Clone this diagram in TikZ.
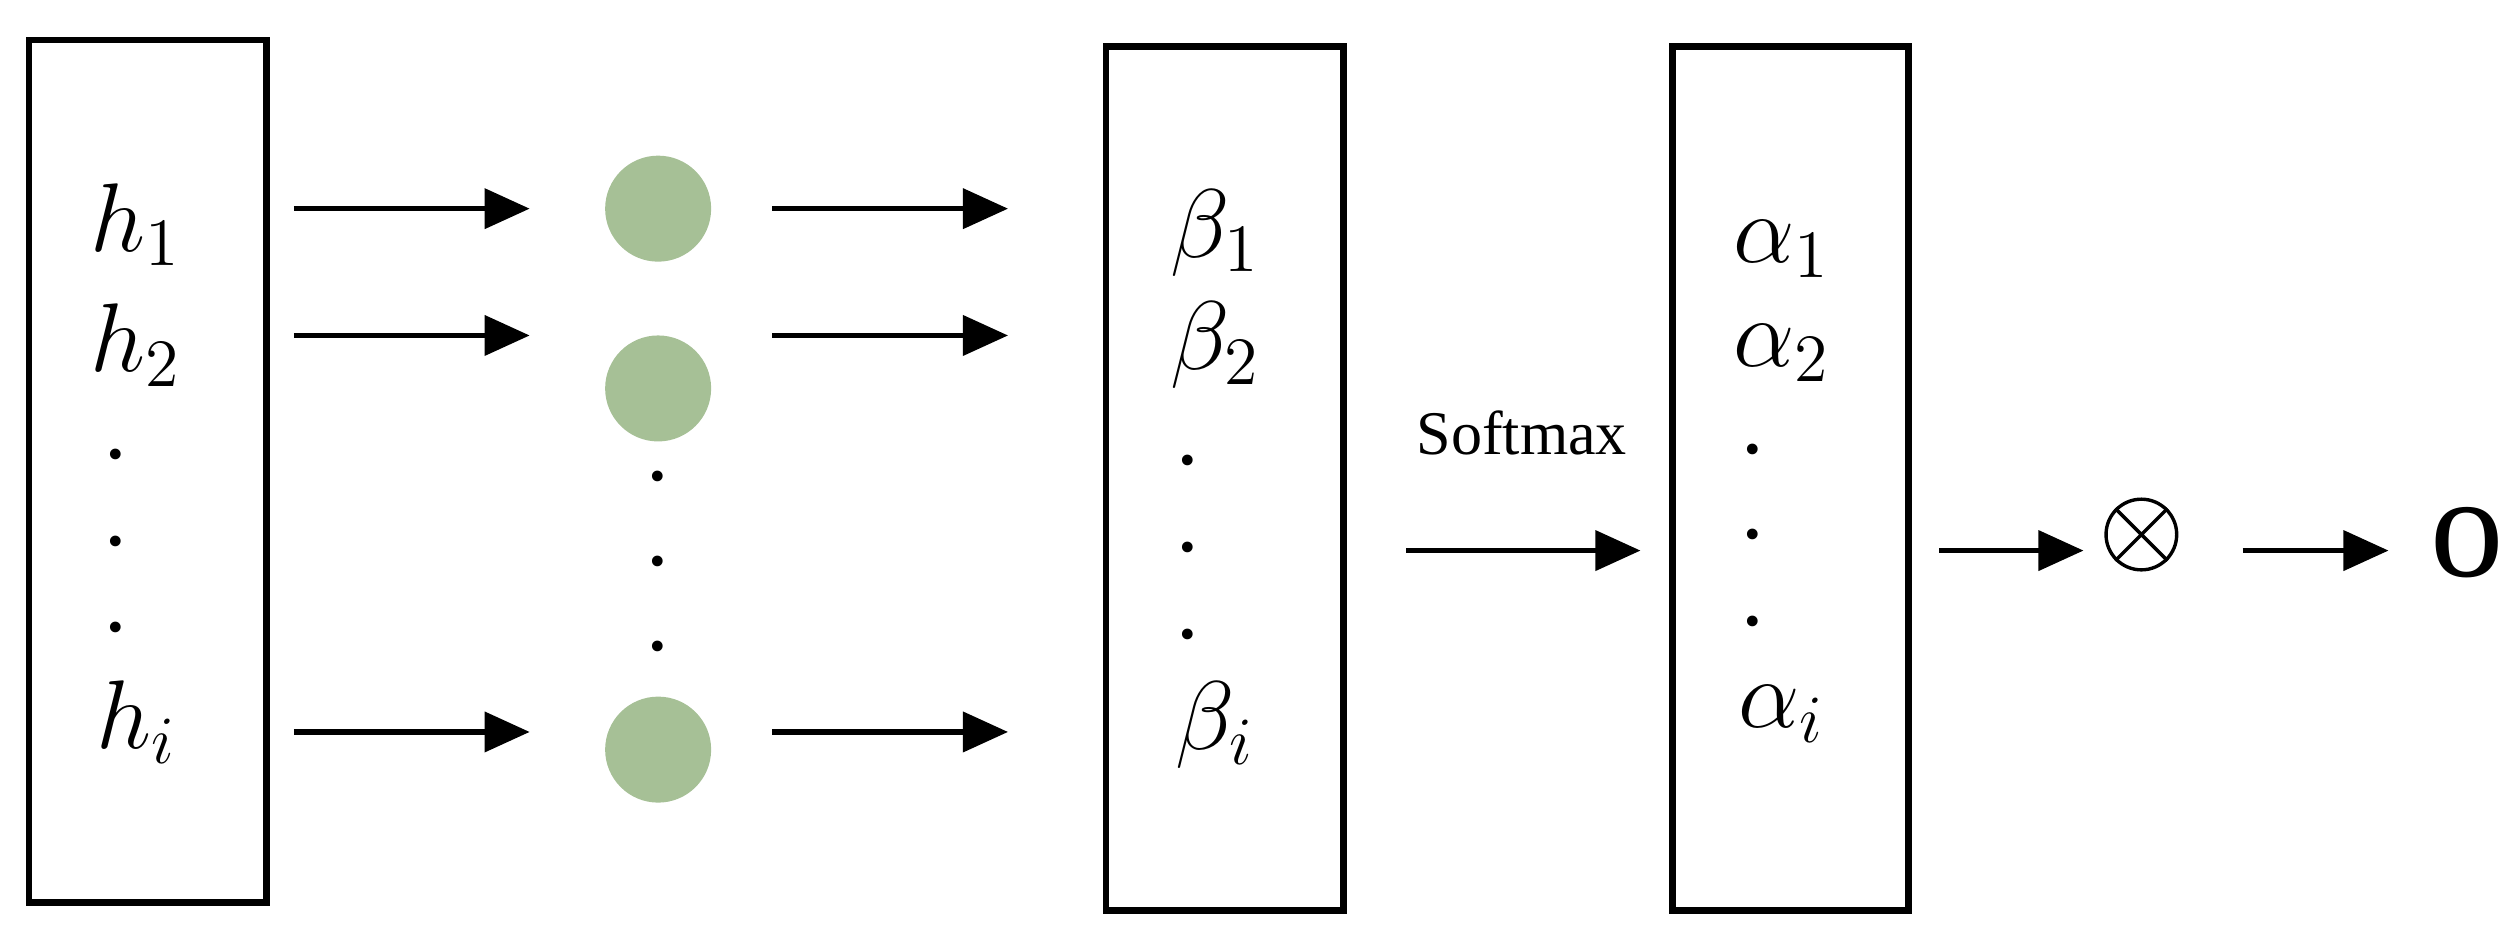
\documentclass[tikz,border=0pt]{standalone}
\usepackage{fontspec}
\setmainfont{Liberation Serif}
\usetikzlibrary{arrows.meta}
\definecolor{nodegreen}{RGB}{166,192,150}
\begin{document}
\begin{tikzpicture}[x=0.01cm,y=-0.01cm,
  box/.style={draw,line width=1.2pt,inner sep=0},
  arr/.style={-{Triangle[length=8pt,width=7pt]},line width=1pt},
  dot/.style={circle,fill=nodegreen,minimum size=0.66cm,inner sep=0},
  lab/.style={font=\fontsize{17}{19}\selectfont,inner sep=0},
  dt/.style={font=\fontsize{16}{18}\selectfont,inner sep=0}]
\useasboundingbox (0,0) rectangle (1568,592);
\draw[box] (18,25) rectangle (166,562);
\draw[box] (689,29) rectangle (837,567);
\draw[box] (1042,29) rectangle (1189,567);
% h labels
\node[lab] (h1) at (85,140) {$h_1$};
\node[lab] (h2) at (85,215) {$h_2$};
\node[lab] (hi) at (85,450) {$h_i$};
\foreach \y in {283,337,391} \node[dt] at (72,\y) {.};
% circles
\node[dot] (c1) at (410,130) {};
\node[dot] (c2) at (410,242) {};
\node[dot] (c3) at (410,467) {};
\foreach \y in {297,350,403} \node[dt] at (410,\y) {.};
% arrows
\foreach \y in {130,209,456} {
  \coordinate (a\y) at (183,\y); \coordinate (b\y) at (330,\y);
  \draw[arr] (a\y) -- (b\y);
  \coordinate (p\y) at (481,\y); \coordinate (q\y) at (628,\y);
  \draw[arr] (p\y) -- (q\y);
}
% beta
\node[lab] (b1) at (757,145) {$\beta_1$};
\node[lab] (b2) at (757,215) {$\beta_2$};
\node[lab] (bi) at (757,452) {$\beta_i$};
\foreach \y in {287,341,395} \node[dt] at (740,\y) {.};
% alpha
\node[lab] (al1) at (1110,155) {$\alpha_1$};
\node[lab] (al2) at (1110,220) {$\alpha_2$};
\node[lab] (ali) at (1110,445) {$\alpha_i$};
\foreach \y in {280,333,387} \node[dt] at (1092,\y) {.};
% softmax
\coordinate (s1) at (876,343); \coordinate (s2) at (1022,343);
\draw[arr] (s1) -- (s2);
\node[font=\fontsize{11}{13}\selectfont] (sm) at (948,270) {Softmax};
\coordinate (t1) at (1208,343); \coordinate (t2) at (1298,343);
\draw[arr] (t1) -- (t2);
\node[draw,circle,minimum size=0.44cm,inner sep=0,line width=0.6pt] (ot) at (1334,333) {};
\draw[line width=0.6pt] (ot.north west) -- (ot.south east) (ot.north east) -- (ot.south west);
\coordinate (u1) at (1397,343); \coordinate (u2) at (1488,343);
\draw[arr] (u1) -- (u2);
\node[font=\fontsize{26}{28}\selectfont] (o) at (1537,338) {o};
\end{tikzpicture}
\end{document}
